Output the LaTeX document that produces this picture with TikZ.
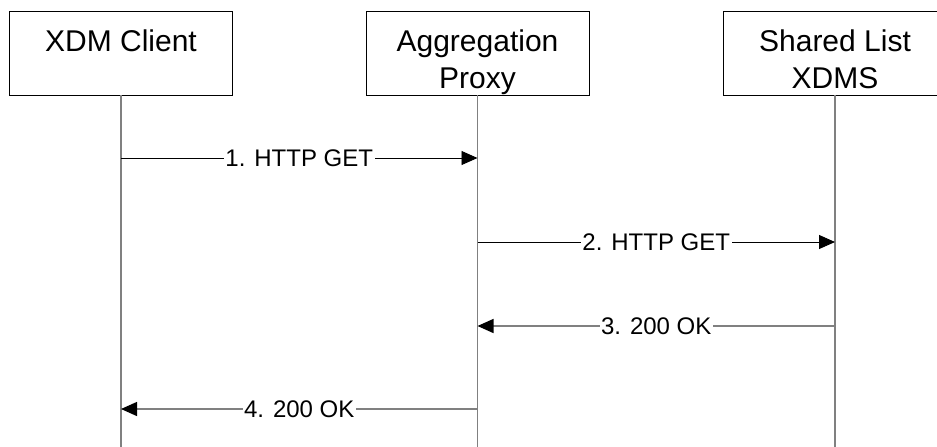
\documentclass[tikz,border=0pt]{standalone}
\usepackage{fontspec}
\setmainfont{Liberation Sans}
\usetikzlibrary{arrows.meta}
\begin{document}
\begin{tikzpicture}[x=1pt,y=-1pt,
  entity/.style={draw=black,line width=0.9pt,minimum width=223pt,minimum height=84pt,inner sep=0pt},
  entname/.style={anchor=north,align=center,inner sep=0pt,font=\fontsize{30}{37}\selectfont},
  lifeline/.style={draw=gray,line width=1.2pt},
  msg/.style={line width=0.9pt,-{Triangle[length=16pt,width=14pt]}},
  reply/.style={msg,draw=gray,line width=1.3pt,arrows={-{Triangle[length=16pt,width=14pt,color=black]}}},
  msglabel/.style={fill=white,inner sep=1.5pt,font=\fontsize{24}{28}\selectfont}]

\useasboundingbox (0,0) rectangle (937,447);
\clip (0,0) rectangle (937,447);

% Entity boxes
\node[entity] (client) at (121,53) {};
\node[entity] (proxy) at (477.5,53) {};
\node[entity] (xdms) at (835,53) {};

% Entity names
\node[entname] (clientname) at ([yshift=-19pt]client.north) {XDM Client};
\node[entname] (proxyname) at ([yshift=-19pt]proxy.north) {Aggregation\\Proxy};
\node[entname] (xdmsname) at ([yshift=-19pt]xdms.north) {Shared List\\XDMS};

% Lifeline ends
\coordinate (clientend) at (client.south |- 0,447);
\coordinate (proxyend) at (proxy.south |- 0,447);
\coordinate (xdmsend) at (xdms.south |- 0,447);

% Lifelines
\draw[lifeline] (client.south) -- (clientend);
\draw[lifeline] (proxy.south) -- (proxyend);
\draw[lifeline] (xdms.south) -- (xdmsend);

% Messages
\draw[msg] (client.south |- 0,158) -- node[msglabel] (m1) {1. HTTP GET} (proxy.south |- 0,158);
\draw[msg] (proxy.south |- 0,242) -- node[msglabel] (m2) {2. HTTP GET} (xdms.south |- 0,242);
\draw[reply] (xdms.south |- 0,326) -- node[msglabel] (m3) {3. 200 OK} (proxy.south |- 0,326);
\draw[reply] (proxy.south |- 0,409) -- node[msglabel] (m4) {4. 200 OK} (client.south |- 0,409);
\end{tikzpicture}
\end{document}
